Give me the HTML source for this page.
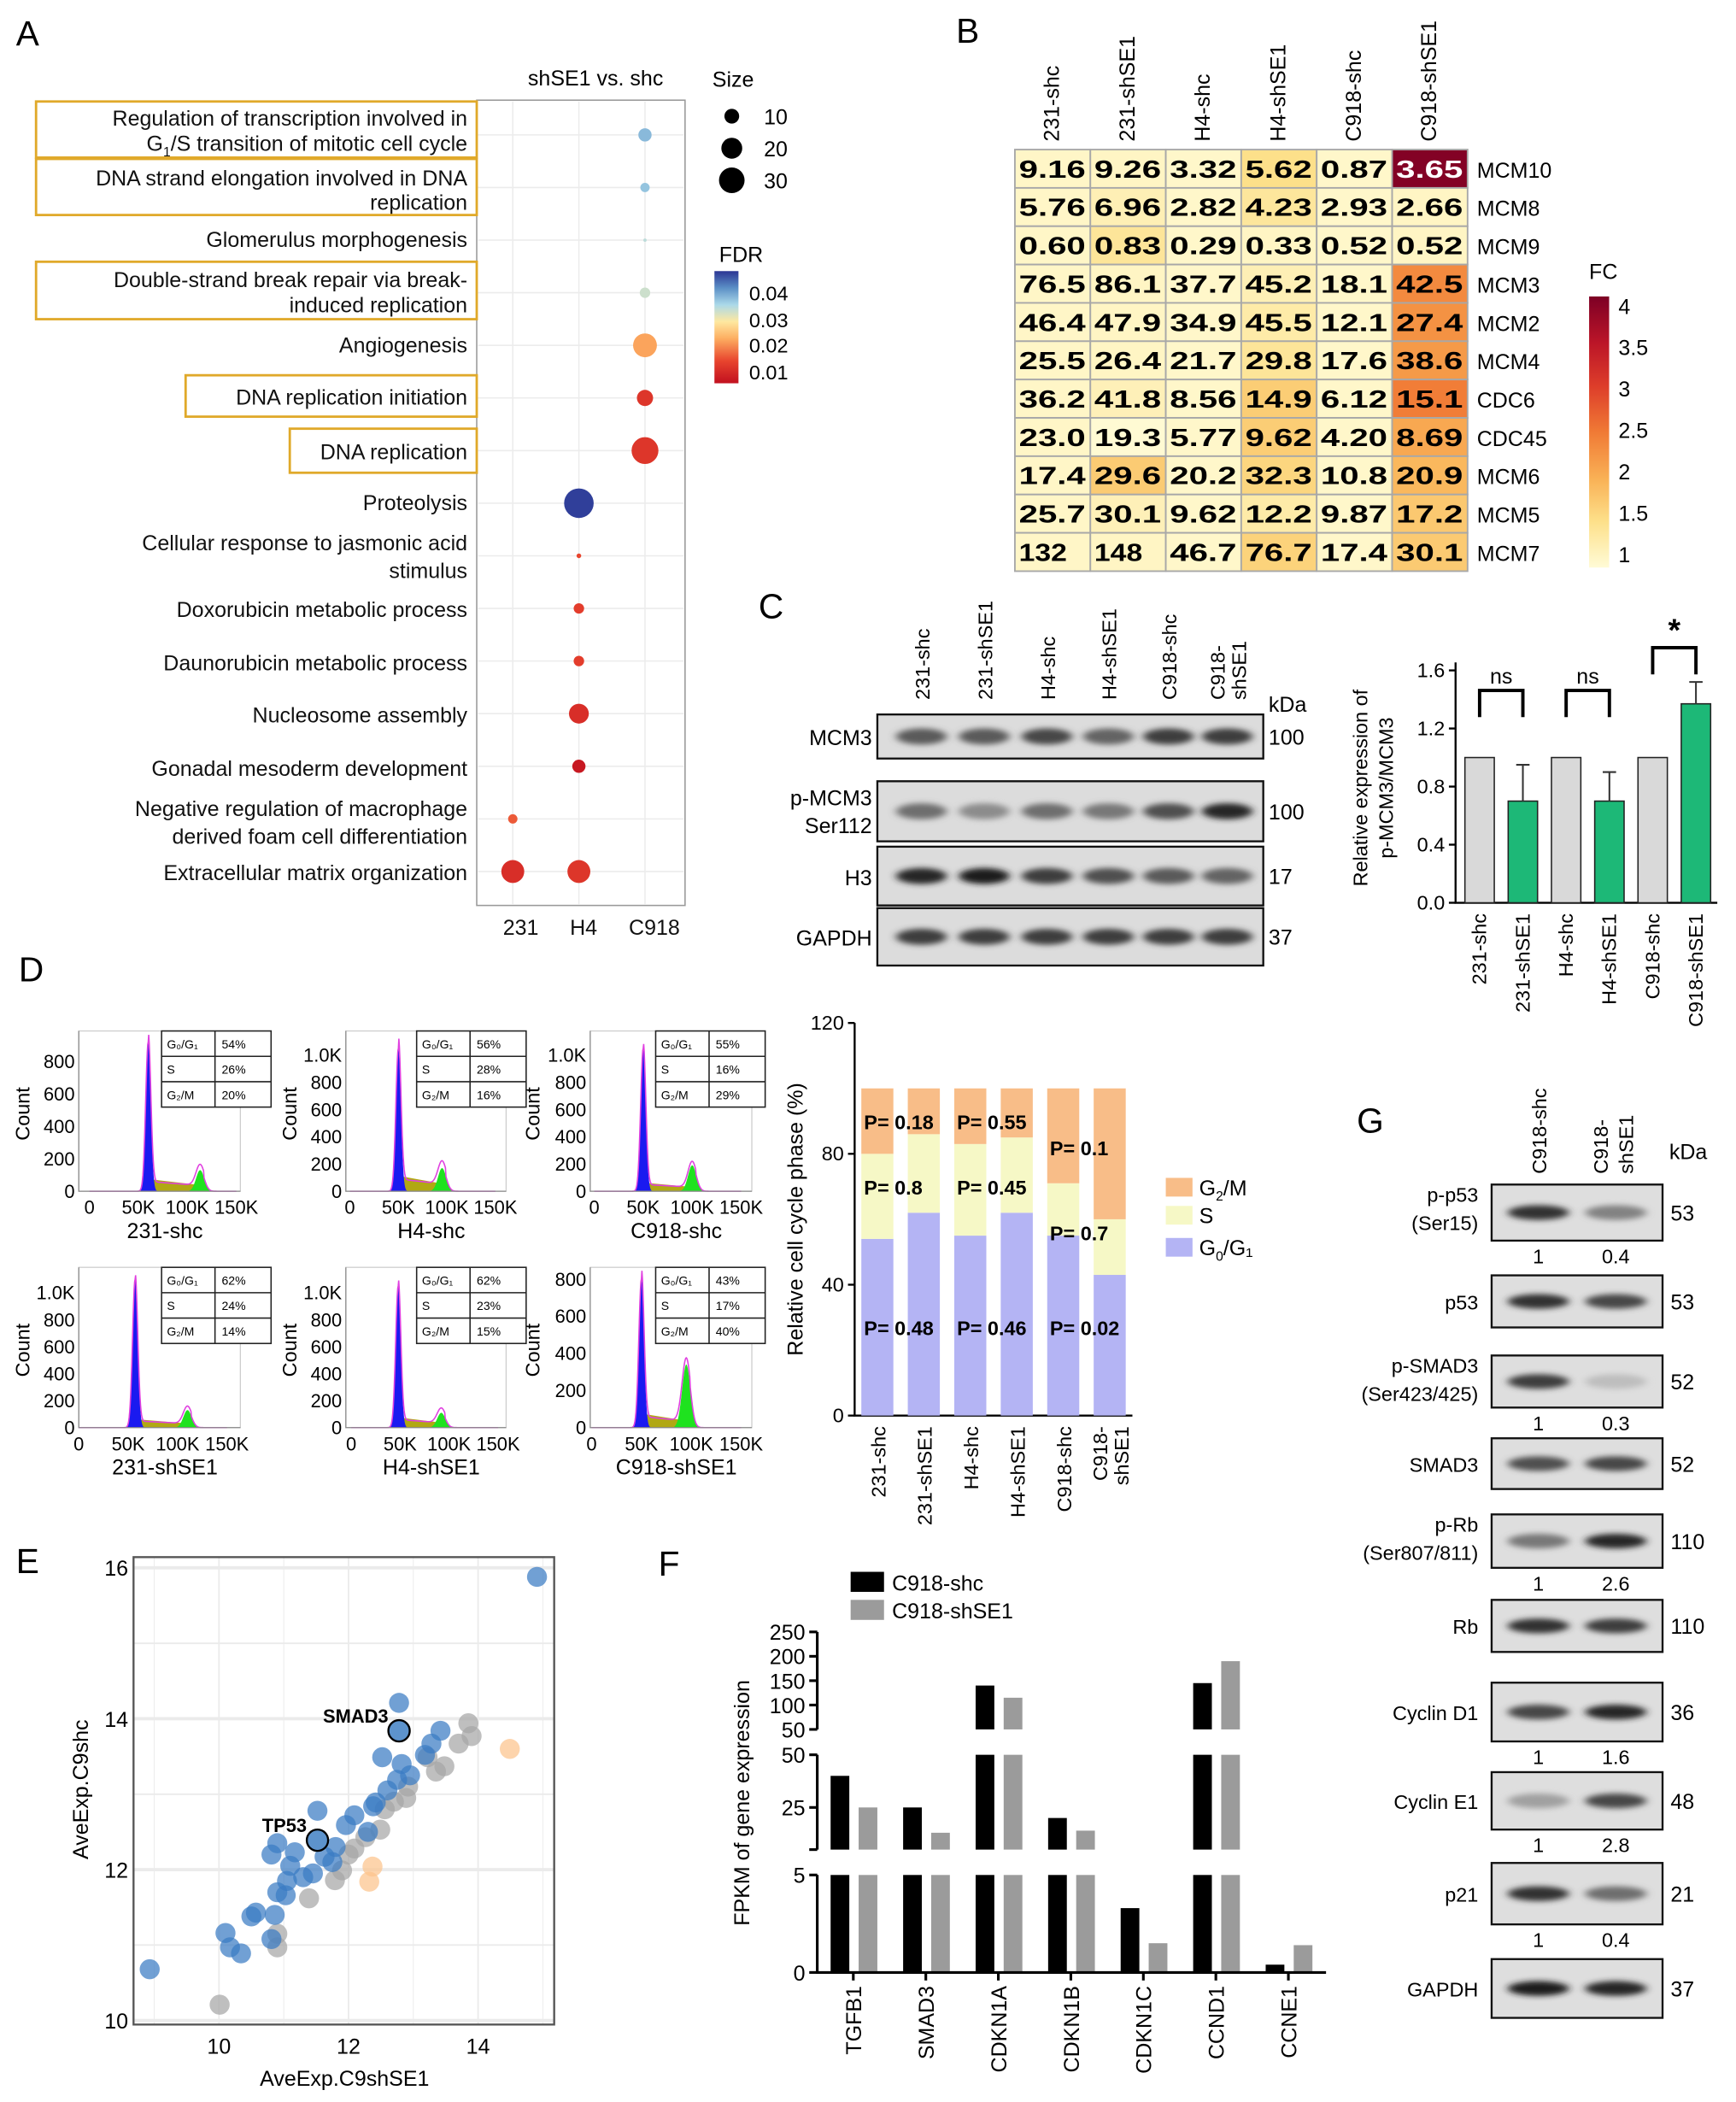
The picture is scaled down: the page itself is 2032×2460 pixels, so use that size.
<!DOCTYPE html>
<html><head><meta charset="utf-8"><title>Figure</title>
<style>
html,body{margin:0;padding:0;background:#fff;}
svg{display:block;font-family:"Liberation Sans",Arial,sans-serif;}
</style></head>
<body>
<svg id="fig" xmlns="http://www.w3.org/2000/svg" width="2032" height="2460" viewBox="0 0 1300 1574" preserveAspectRatio="none">
<defs>
<linearGradient id="fdrGrad" x1="0" y1="1" x2="0" y2="0">
<stop offset="0" stop-color="#c2101f"/><stop offset="0.2" stop-color="#e8452e"/><stop offset="0.4" stop-color="#fdae61"/><stop offset="0.55" stop-color="#fee8a0"/><stop offset="0.7" stop-color="#abd9e9"/><stop offset="0.85" stop-color="#5b8fc6"/><stop offset="1" stop-color="#2b3594"/>
</linearGradient>
<linearGradient id="fcGrad" x1="0" y1="1" x2="0" y2="0">
<stop offset="0" stop-color="#fffbd6"/><stop offset="0.17" stop-color="#fde08a"/><stop offset="0.33" stop-color="#f9b055"/><stop offset="0.5" stop-color="#f07a35"/><stop offset="0.67" stop-color="#dd3d2a"/><stop offset="0.83" stop-color="#bb1528"/><stop offset="1" stop-color="#7d0025"/>
</linearGradient>
<filter id="blur" x="-20%" y="-50%" width="140%" height="200%"><feGaussianBlur stdDeviation="3 2"/></filter>
</defs>

<g font-size="26">
<text x="12" y="34">A</text>
<text x="716" y="32">B</text>
<text x="568" y="463">C</text>
<text x="14" y="735">D</text>
<text x="12" y="1178">E</text>
<text x="493" y="1180">F</text>
<text x="1016" y="848">G</text>
</g>

<g id="panelA">
<rect x="357" y="75" width="156" height="603" fill="#fff" stroke="#999" stroke-width="1"/>
<g id="aGrid"></g>
<g font-size="16" text-anchor="end" fill="#111">
<text x="350" y="94">Regulation of transcription involved in</text>
<text x="350" y="113">G<tspan font-size="10" dy="4">1</tspan><tspan dy="-4">/S transition of mitotic cell cycle</tspan></text>
<text x="350" y="139">DNA strand elongation involved in DNA</text>
<text x="350" y="157">replication</text>
<text x="350" y="185">Glomerulus morphogenesis</text>
<text x="350" y="215">Double-strand break repair via break-</text>
<text x="350" y="234">induced replication</text>
<text x="350" y="264">Angiogenesis</text>
<text x="350" y="303">DNA replication initiation</text>
<text x="350" y="344">DNA replication</text>
<text x="350" y="382">Proteolysis</text>
<text x="350" y="412">Cellular response to jasmonic acid</text>
<text x="350" y="433">stimulus</text>
<text x="350" y="462">Doxorubicin metabolic process</text>
<text x="350" y="502">Daunorubicin metabolic process</text>
<text x="350" y="541">Nucleosome assembly</text>
<text x="350" y="581">Gonadal mesoderm development</text>
<text x="350" y="611">Negative regulation of macrophage</text>
<text x="350" y="632">derived foam cell differentiation</text>
<text x="350" y="659">Extracellular matrix organization</text>
</g>
<g fill="none" stroke="#e0a92a" stroke-width="1.8">
<rect x="27" y="76" width="330" height="42"/>
<rect x="27" y="119" width="330" height="42"/>
<rect x="27" y="196" width="330" height="43"/>
<rect x="139" y="281" width="218" height="31"/>
<rect x="217" y="321" width="140" height="33"/>
</g>
<g font-size="16" text-anchor="middle" fill="#111">
<text x="390" y="700">231</text>
<text x="437" y="700">H4</text>
<text x="490" y="700">C918</text>
</g>
<text x="446" y="64" font-size="16" text-anchor="middle">shSE1 vs. shc</text>
<text x="549" y="65" font-size="16" text-anchor="middle">Size</text>
<g id="sizeLegend"></g>
<text x="555" y="196" font-size="16" text-anchor="middle">FDR</text>
<rect x="535" y="203" width="18" height="84" fill="url(#fdrGrad)"/>
<g font-size="15">
<text x="561" y="225">0.04</text>
<text x="561" y="245">0.03</text>
<text x="561" y="264">0.02</text>
<text x="561" y="284">0.01</text>
</g>
<g id="aDots"></g>
</g>

<g id="panelB">
<g id="bCells"></g>
<text x="1190" y="209" font-size="16">FC</text>
<rect x="1190" y="222" width="15" height="203" fill="url(#fcGrad)"/>
<g id="fcTicks" font-size="16"></g>
</g>

<g id="panelC">
<g id="cBlots"></g>
<g id="cBars"></g>
</g>

<g id="panelD">
<g id="dHist"></g>
<g id="dStack"></g>
</g>

<g id="panelE"></g>
<g id="panelF"></g>
<g id="panelG"></g>
</svg>

<script>
var NS = "http://www.w3.org/2000/svg";
function mk(tag, attrs, parent, txt) {
  var e = document.createElementNS(NS, tag);
  for (var k in attrs) e.setAttribute(k, attrs[k]);
  if (txt !== undefined) e.textContent = txt;
  parent.appendChild(e);
  return e;
}
function $(id){ return document.getElementById(id); }

/* ================= Panel A data ================= */
var aColumns = ["231", "H4", "C918"];
var aRowCount = 15;
var dotRow  = [0, 1, 2, 3, 4, 5, 6, 7, 8, 9, 10, 11, 12, 13, 14, 14];
var dotCol  = [2, 2, 2, 2, 2, 2, 2, 1, 1, 1, 1, 1, 1, 0, 0, 1];
var dotSize = [8, 4, 0.5, 5, 26, 12, 33, 40, 1, 5, 5, 18, 8, 4, 24, 24];
var dotFdr  = [0.034, 0.033, 0.03, 0.029, 0.019, 0.008, 0.008, 0.046, 0.01, 0.009, 0.009, 0.007, 0.004, 0.012, 0.007, 0.008];
var sizeLegendValues = [10, 20, 30];

function fdrColor(v) {
  var stops = [[0.003,[194,16,31]],[0.01,[232,69,46]],[0.02,[253,174,97]],[0.026,[254,232,160]],[0.031,[171,217,233]],[0.038,[91,143,198]],[0.047,[43,53,148]]];
  if (v <= stops[0][0]) return "rgb("+stops[0][1]+")";
  for (var i=1;i<stops.length;i++){
    if (v <= stops[i][0]) {
      var t=(v-stops[i-1][0])/(stops[i][0]-stops[i-1][0]);
      var c=stops[i-1][1].map(function(a,j){return Math.round(a+(stops[i][1][j]-a)*t);});
      return "rgb("+c+")";
    }
  }
  return "rgb("+stops[stops.length-1][1]+")";
}
function aX(c){ return 384 + c*49.5; }
function aY(r){ return 101 + r*39.4; }
function aR(s){ return 1.75*Math.sqrt(s); }

(function(){
  var g = $("aGrid");
  for (var c=0;c<aColumns.length;c++){
    var l = mk("line",{x1:aX(c),x2:aX(c),y1:76,y2:677,stroke:"#ececec","stroke-width":1},g);
    
    
  }
  for (var r=0;r<aRowCount;r++){
    var h = mk("line",{x1:358,x2:512,y1:aY(r),y2:aY(r),stroke:"#ececec","stroke-width":1},g);
    
    
  }
  var d = $("aDots");
  for (var i=0;i<dotRow.length;i++){
    var ci = mk("circle",{cx:aX(dotCol[i]),cy:aY(dotRow[i]),r:aR(dotSize[i]),fill:fdrColor(dotFdr[i])},d);
    
    
  }
  var sl = $("sizeLegend");
  for (var k=0;k<sizeLegendValues.length;k++){
    var yy = 87 + k*24;
    var lc = mk("circle",{cx:548,cy:yy,r:aR(sizeLegendValues[k]),fill:"#000"},sl);
    
    
    var lt = mk("text",{x:572,y:yy+6,"font-size":16},sl,String(sizeLegendValues[k]));
    
    
  }
})();

/* ================= Panel B data ================= */
var bSamples = ["231-shc","231-shSE1","H4-shc","H4-shSE1","C918-shc","C918-shSE1"];
var bGenes = ["MCM10","MCM8","MCM9","MCM3","MCM2","MCM4","CDC6","CDC45","MCM6","MCM5","MCM7"];
var bValues = [
 ["9.16","9.26","3.32","5.62","0.87","3.65"],
 ["5.76","6.96","2.82","4.23","2.93","2.66"],
 ["0.60","0.83","0.29","0.33","0.52","0.52"],
 ["76.5","86.1","37.7","45.2","18.1","42.5"],
 ["46.4","47.9","34.9","45.5","12.1","27.4"],
 ["25.5","26.4","21.7","29.8","17.6","38.6"],
 ["36.2","41.8","8.56","14.9","6.12","15.1"],
 ["23.0","19.3","5.77","9.62","4.20","8.69"],
 ["17.4","29.6","20.2","32.3","10.8","20.9"],
 ["25.7","30.1","9.62","12.2","9.87","17.2"],
 ["132","148","46.7","76.7","17.4","30.1"]
];
var bFC = [
 [1.10,1.12,1.08,1.50,1.08,3.95],
 [1.10,1.22,1.08,1.38,1.08,1.12],
 [1.10,1.40,1.08,1.12,1.08,1.12],
 [1.10,1.12,1.08,1.22,1.08,2.35],
 [1.10,1.12,1.08,1.30,1.08,2.28],
 [1.10,1.12,1.08,1.40,1.08,2.20],
 [1.10,1.20,1.08,1.70,1.08,2.47],
 [1.10,1.02,1.08,1.70,1.08,2.07],
 [1.10,1.72,1.08,1.60,1.08,1.92],
 [1.10,1.20,1.08,1.30,1.08,1.75],
 [1.10,1.12,1.08,1.64,1.08,1.73]
];
var fcTickLabels = ["1","1.5","2","2.5","3","3.5","4"];
var fcTickValues = [1,1.5,2,2.5,3,3.5,4];

function fcColor(v){
  var stops=[[1,[255,251,214]],[1.5,[253,224,138]],[2,[249,176,85]],[2.5,[240,122,53]],[3,[221,61,42]],[3.5,[187,21,40]],[4,[125,0,37]]];
  if (v<=1) return "rgb("+stops[0][1]+")";
  for (var i=1;i<stops.length;i++){
    if (v<=stops[i][0]){
      var t=(v-stops[i-1][0])/0.5;
      var c=stops[i-1][1].map(function(a,j){return Math.round(a+(stops[i][1][j]-a)*t);});
      return "rgb("+c+")";
    }
  }
  return "rgb("+stops[6][1]+")";
}
function bX(c){ return 760 + c*56.5; }
function bY(r){ return 112 + r*28.7; }
function fcY(v){ return 415 - (v-1)*62; }

(function(){
  var g=$("bCells");
  for (var r=0;r<bGenes.length;r++){
    for (var c=0;c<bSamples.length;c++){
      var rc=mk("rect",{x:bX(c),y:bY(r),width:56.5,height:28.7,fill:fcColor(bFC[r][c]),stroke:"#a8a8a8","stroke-width":1.2},g);
      
      
      var tx=mk("text",{x:bX(c)+3,y:bY(r)+21,"font-size":18.5,"font-weight":"bold",fill:bFC[r][c]>3?"#fff":"#000",textLength:50,lengthAdjust:"spacingAndGlyphs"},g,bValues[r][c]);
      if (bValues[r][c].length===3) { tx.setAttribute("textLength", 36); }
      
      
    }
    var gl=mk("text",{x:1106,y:bY(r)+21,"font-size":16},g,bGenes[r]);
    
    
  }
  for (var c2=0;c2<bSamples.length;c2++){
    var cx=bX(c2)+33;
    var sl=mk("text",{x:0,y:0,"font-size":16,"text-anchor":"start",transform:"translate("+cx+",106) rotate(-90)"},g,bSamples[c2]);
    
    
  }
  var t=$("fcTicks");
  for (var k=0;k<fcTickValues.length;k++){
    var ft=mk("text",{x:1212,y:fcY(fcTickValues[k])+6},t,fcTickLabels[k]);
    
    
  }
})();

/* ================= Panel C ================= */
var cLanes = ["231-shc","231-shSE1","H4-shc","H4-shSE1","C918-shc","C918-shSE1"];
var cBlotNames = ["MCM3","p-MCM3 Ser112","H3","GAPDH"];
var cBlotKda = ["100","100","17","37"];
var cBandMCM3 = [0.70,0.70,0.80,0.65,0.85,0.85];
var cBandPMCM3 = [0.60,0.45,0.60,0.55,0.75,0.95];
var cBandH3 = [0.95,1.00,0.85,0.75,0.70,0.65];
var cBandGAPDH = [0.85,0.85,0.85,0.85,0.85,0.85];
var cBarValues = [1.0,0.70,1.0,0.70,1.0,1.37];
var cBarErrors = [0,0.25,0,0.20,0,0.15];
var cYTicks = [0,0.4,0.8,1.2,1.6];
var cYTickLabels = ["0.0","0.4","0.8","1.2","1.6"];

function band(g, cx, cy, w, h, inten){
  var sh = Math.round(230 - inten*200);
  var e = mk("ellipse",{cx:cx,cy:cy,rx:w/2,ry:h/2,fill:"rgb("+sh+","+sh+","+sh+")",filter:"url(#blur)"},g);
  
  
}
function cYv(v){ return 676 - v*108.75; }
function cXb(i){ return 1108 + i*32.4; }

(function(){
  var g=$("cBlots");
  var laneX=[690,737,784,830,875,919];
  var rows=[[535,568],[585,630],[634,678],[680,723]];
  var bands=[cBandMCM3,cBandPMCM3,cBandH3,cBandGAPDH];
  for (var r=0;r<rows.length;r++){
    var bx=mk("rect",{x:657,y:rows[r][0],width:289,height:rows[r][1]-rows[r][0],fill:"#dcdcdc",stroke:"#111","stroke-width":1.5},g);
    
    
    var cy=(rows[r][0]+rows[r][1])/2;
    for (var l=0;l<laneX.length;l++) band(g, laneX[l], cy, 38, 12, bands[r][l]);
    var kd=mk("text",{x:950,y:cy+6,"font-size":16},g,cBlotKda[r]);
    
    
  }
  var labs=[["MCM3",558],["p-MCM3",603],["Ser112",624],["H3",663],["GAPDH",708]];
  for (var i=0;i<labs.length;i++){
    var tl=mk("text",{x:653,y:labs[i][1],"font-size":16,"text-anchor":"end"},g,labs[i][0]);
    
    
  }
  var kh=mk("text",{x:950,y:533,"font-size":16},g,"kDa");
  
  
  var lanesTxt=[["231-shc"],["231-shSE1"],["H4-shc"],["H4-shSE1"],["C918-shc"],["C918-","shSE1"]];
  for (var j=0;j<lanesTxt.length;j++){
    for (var q=0;q<lanesTxt[j].length;q++){
      var xx=laneX[j]+6-(lanesTxt[j].length-1)*8+q*16;
      var lt=mk("text",{x:0,y:0,"font-size":15,transform:"translate("+xx+",524) rotate(-90)"},g,lanesTxt[j][q]);
      
      
    }
  }

  var b=$("cBars");
  var ax=mk("path",{d:"M1090 496 V676 H1286",fill:"none",stroke:"#000","stroke-width":1.5},b);
  
  
  for (var t=0;t<cYTicks.length;t++){
    var ty=cYv(cYTicks[t]);
    var tk=mk("line",{x1:1085,x2:1090,y1:ty,y2:ty,stroke:"#000","stroke-width":1.5},b);
    
    
    var tt=mk("text",{x:1082,y:ty+5,"font-size":15,"text-anchor":"end"},b,cYTickLabels[t]);
    
    
  }
  for (var k=0;k<cBarValues.length;k++){
    var x=cXb(k), y=cYv(cBarValues[k]);
    var br=mk("rect",{x:x-11,y:y,width:22,height:676-y,fill:k%2?"#1db877":"#d9d9d9",stroke:"#222","stroke-width":1},b);
    
    
    if (cBarErrors[k]>0){
      var ye=cYv(cBarValues[k]+cBarErrors[k]);
      var eb=mk("path",{d:"M"+x+" "+y+" V"+ye+" M"+(x-5)+" "+ye+" H"+(x+5),stroke:"#333","stroke-width":1.3,fill:"none"},b);
      
      
    }
    var xl=mk("text",{x:0,y:0,"font-size":15,"text-anchor":"end",transform:"translate("+(x+5)+",684) rotate(-90)"},b,cLanes[k]);
    
    
  }
  var sigs=[[0,1,517,"ns"],[2,3,517,"ns"],[4,5,485,"*"]];
  for (var s=0;s<sigs.length;s++){
    var x1=cXb(sigs[s][0]), x2=cXb(sigs[s][1]), yb=sigs[s][2];
    var pb=mk("path",{d:"M"+x1+" "+(yb+20)+" V"+yb+" H"+x2+" V"+(yb+20),stroke:"#000","stroke-width":2.5,fill:"none"},b);
    
    
    var st=mk("text",{x:(x1+x2)/2,y:yb-5,"font-size":sigs[s][3]==="*"?24:16,"text-anchor":"middle","font-weight":sigs[s][3]==="*"?"bold":"normal"},b,sigs[s][3]);
    
    
  }
  var yl1=mk("text",{x:0,y:0,"font-size":15,"text-anchor":"middle",transform:"translate(1024,590) rotate(-90)"},b,"Relative expression of");
  
  
  var yl2=mk("text",{x:0,y:0,"font-size":15,"text-anchor":"middle",transform:"translate(1043,590) rotate(-90)"},b,"p-MCM3/MCM3");
  
  
})();

/* ================= Panel D ================= */
var dSampleNames = ["231-shc","H4-shc","C918-shc","231-shSE1","H4-shSE1","C918-shSE1"];
var dG1Pct = ["54%","56%","55%","62%","62%","43%"];
var dSPct  = ["26%","28%","16%","24%","23%","17%"];
var dG2Pct = ["20%","16%","29%","14%","15%","40%"];
var dG1Peak = [920,1050,1050,1100,1050,800];
var dG1Pos  = [60,50,50,57,48,50];
var dG2Peak = [130,170,190,130,110,340];
var dG2Pos  = [113,95,100,110,92,95];
var dSLevel = [60,90,50,50,60,60];

var stackSamples = ["231-shc","231-shSE1","H4-shc","H4-shSE1","C918-shc","C918-shSE1"];
var stackG1 = [54,62,55,62,55,43];
var stackS  = [26,24,28,23,16,17];
var stackG2 = [20,14,17,15,29,40];
var stackYTicks = [0,40,80,120];
var stackPLabels = [["P= 0.18",0,90],["P= 0.55",2,90],["P= 0.8",0,70],["P= 0.45",2,70],["P= 0.1",4,82],["P= 0.7",4,56],["P= 0.48",0,27],["P= 0.46",2,27],["P= 0.02",4,27]];

(function(){
  var g=$("dHist");
  var boxes=[
    {x0:59,x1:180,top:772,bot:892,ax0:67,ax1:177,yScale:0.1216,ticks:[0,200,400,600,800],tl:["0","200","400","600","800"],tx:121,cx:22},
    {x0:259,x1:379,top:772,bot:892,ax0:262,ax1:371,yScale:0.102,ticks:[0,200,400,600,800,1000],tl:["0","200","400","600","800","1.0K"],tx:312,cx:222},
    {x0:442,x1:563,top:772,bot:892,ax0:445,ax1:555,yScale:0.102,ticks:[0,200,400,600,800,1000],tl:["0","200","400","600","800","1.0K"],tx:491,cx:404},
    {x0:59,x1:180,top:949,bot:1069,ax0:59,ax1:170,yScale:0.101,ticks:[0,200,400,600,800,1000],tl:["0","200","400","600","800","1.0K"],tx:121,cx:22},
    {x0:259,x1:379,top:949,bot:1069,ax0:263,ax1:373,yScale:0.101,ticks:[0,200,400,600,800,1000],tl:["0","200","400","600","800","1.0K"],tx:312,cx:222},
    {x0:442,x1:563,top:949,bot:1069,ax0:443,ax1:555,yScale:0.139,ticks:[0,200,400,600,800],tl:["0","200","400","600","800"],tx:491,cx:404}
  ];
  for (var i=0;i<6;i++){
    var B=boxes[i];
    var fr=mk("rect",{x:B.x0,y:B.top,width:B.x1-B.x0,height:B.bot-B.top,fill:"#fff",stroke:"#ccc","stroke-width":0.8},g);
    
    
    function X(k){ return B.ax0 + k/150*(B.ax1-B.ax0); }
    function Y(c){ return B.bot - c*B.yScale; }
    function gauss(k,p,h,s){ return h*Math.exp(-0.5*Math.pow((k-p)/s,2)); }
    var p1=dG1Pos[i],h1=dG1Peak[i],p2=dG2Pos[i],h2=dG2Peak[i],sl=dSLevel[i];
    var dB="M"+X(p1-9)+" "+Y(0), dGn="M"+X(p2-12)+" "+Y(0), dS="M"+X(p1)+" "+Y(0), dL="M"+X(0)+" "+Y(0);
    for (var k=p1-9;k<=p1+9;k+=0.5) dB+=" L"+X(k)+" "+Y(gauss(k,p1,h1,2.6));
    dB+=" L"+X(p1+9)+" "+Y(0)+"Z";
    for (var k2=p2-12;k2<=p2+12;k2+=0.5) dGn+=" L"+X(k2)+" "+Y(gauss(k2,p2,h2,4.2));
    dGn+=" L"+X(p2+12)+" "+Y(0)+"Z";
    dS+=" L"+X(p1+4)+" "+Y(sl*1.2)+" L"+X(p2-6)+" "+Y(sl*0.7)+" L"+X(p2+6)+" "+Y(0)+"Z";
    for (var k3=0;k3<=150;k3+=0.5){
      var s=0; if (k3>p1 && k3<p2+4) s = sl*(1 - 0.4*(k3-p1)/(p2-p1));
      dL+=" L"+X(k3)+" "+Y(gauss(k3,p1,h1,2.6)+gauss(k3,p2,h2,4.2)+Math.max(0,s));
    }
    var pS=mk("path",{d:dS,fill:"#b1a813"},g);  
    var pB=mk("path",{d:dB,fill:"#1a1af0"},g);  
    var pG=mk("path",{d:dGn,fill:"#1fe21f"},g);  
    var pL=mk("path",{d:dL,fill:"none",stroke:"#e040e0","stroke-width":1},g);  
    var axl=mk("path",{d:"M"+B.x0+" "+B.top+" V"+B.bot+" H"+B.x1,fill:"none",stroke:"#888","stroke-width":0.8},g);
     
    for (var t=0;t<B.ticks.length;t++){
      var yt=Y(B.ticks[t]);
      var tl=mk("text",{x:B.x0-3,y:yt+5,"font-size":14,"text-anchor":"end"},g,B.tl[t]);
       
    }
    var xt=[0,50,100,150], xtl=["0","50K","100K","150K"];
    for (var u=0;u<4;u++){
      var xx=mk("text",{x:X(xt[u]),y:B.bot+17,"font-size":14,"text-anchor":"middle"},g,xtl[u]);
       
    }
    var yct=mk("text",{x:0,y:0,"font-size":15,"text-anchor":"middle",transform:"translate("+B.cx+","+(B.top+62)+") rotate(-90)"},g,"Count");
     
    var nm=mk("text",{x:(B.x0+B.x1)/2+4,y:B.bot+35,"font-size":16,"text-anchor":"middle"},g,dSampleNames[i]);
     
    var tx0=B.tx, ty0=B.top;
    var tb=mk("rect",{x:tx0,y:ty0,width:82,height:57,fill:"#fff",stroke:"#222","stroke-width":1},g);
     
    var tlines=mk("path",{d:"M"+tx0+" "+(ty0+19)+" h82 M"+tx0+" "+(ty0+38)+" h82 M"+(tx0+40)+" "+ty0+" v57",stroke:"#222","stroke-width":1},g);
     
    var rowsT=[["G\u2080/G\u2081",dG1Pct[i]],["S",dSPct[i]],["G\u2082/M",dG2Pct[i]]];
    for (var r=0;r<3;r++){
      var a=mk("text",{x:tx0+4,y:ty0+13+r*19,"font-size":9},g,rowsT[r][0]);
       
      var bb=mk("text",{x:tx0+45,y:ty0+13+r*19,"font-size":9},g,rowsT[r][1]);
       
    }
  }

  var s=$("dStack");
  function sY(v){ return 1060 - v*2.45; }
  function sX(i){ return 657 + i*34.8; }
  var ax=mk("path",{d:"M640 766 V1060 H848",fill:"none",stroke:"#000","stroke-width":1.5},s);
   
  for (var t2=0;t2<stackYTicks.length;t2++){
    var yy=sY(stackYTicks[t2]);
    var tk=mk("line",{x1:635,x2:640,y1:yy,y2:yy,stroke:"#000","stroke-width":1.5},s);
     
    var tt=mk("text",{x:632,y:yy+5,"font-size":15,"text-anchor":"end"},s,String(stackYTicks[t2]));
     
  }
  for (var j=0;j<stackSamples.length;j++){
    var x=sX(j)-12, b0=0;
    var segs=[[stackG1[j],"#b4b4f4","g1"],[stackS[j],"#f6f8c6","s"],[stackG2[j],"#f8bd88","g2"]];
    for (var q=0;q<3;q++){
      var y1=sY(b0+segs[q][0]), y0=sY(b0);
      var rr=mk("rect",{x:x,y:y1,width:24,height:y0-y1,fill:segs[q][1]},s);
       
      b0+=segs[q][0];
    }
  }
  var xlab=[["231-shc"],["231-shSE1"],["H4-shc"],["H4-shSE1"],["C918-shc"],["C918-","shSE1"]];
  for (var m=0;m<xlab.length;m++){
    for (var n=0;n<xlab[m].length;n++){
      var xxp=sX(m)+6-(xlab[m].length-1)*8+n*16;
      var xt2=mk("text",{x:0,y:0,"font-size":15,"text-anchor":"end",transform:"translate("+xxp+",1068) rotate(-90)"},s,xlab[m][n]);
       
    }
  }
  for (var p=0;p<stackPLabels.length;p++){
    var pl=mk("text",{x:sX(stackPLabels[p][1])-10,y:sY(stackPLabels[p][2])+6,"font-size":15,"font-weight":"bold"},s,stackPLabels[p][0]);
     
  }
  var yti=mk("text",{x:0,y:0,"font-size":16,"text-anchor":"middle",transform:"translate(601,913) rotate(-90)"},s,"Relative cell cycle phase (%)");
   
  var leg=[["#f8bd88",882,"G","2","/M"],["#f6f8c6",903,"S","",""],["#b4b4f4",927,"G","0","/G\u2081"]];
  for (var L=0;L<leg.length;L++){
    var lr=mk("rect",{x:873,y:leg[L][1],width:20,height:14,fill:leg[L][0]},s);
     
    var lt=mk("text",{x:898,y:leg[L][1]+13,"font-size":16},s);
     
    mk("tspan",{},lt,leg[L][2]);
    if (leg[L][3]) { mk("tspan",{"font-size":10,dy:4},lt,leg[L][3]); mk("tspan",{dy:-4},lt,leg[L][4]); }
  }
})();

/* ================= Panel E ================= */
var eBlueX = [14.91,12.78,13.42,13.28,12.52,12.82,13.18,12.95,12.75,12.42,12.38,12.09,11.52,11.96,10.90,10.81,11.17,11.10,11.63,11.80,10.90,11.03,11.30,10.57,10.86,10.50,10.10,10.17,10.34,10.81,8.93,12.30,11.75,11.45,11.05,12.60];
var eBlueY = [15.88,14.21,13.84,13.67,13.49,13.40,13.52,13.25,13.19,12.89,12.84,12.72,12.78,12.59,12.35,12.20,12.23,12.05,12.17,12.30,11.70,11.66,11.90,11.43,11.40,11.38,11.16,10.97,10.89,11.08,10.68,12.50,12.10,11.95,11.85,13.05];
var eGreyX = [13.85,13.90,13.70,13.22,13.48,12.92,12.89,12.56,12.49,12.26,12.09,11.90,11.79,11.39,10.90,10.90,10.01,13.35,12.70,12.00];
var eGreyY = [13.94,13.77,13.67,13.49,13.37,13.10,12.95,12.80,12.53,12.43,12.28,11.99,11.86,11.62,11.15,10.97,10.21,13.30,12.90,12.20];
var eOrangeX = [14.49,12.37,12.32];
var eOrangeY = [13.60,12.04,11.84];
var eLabels = [["SMAD3",12.78,13.84],["TP53",11.52,12.39]];
var eXTicks = [10,12,14];
var eYTicks = [10,12,14,16];

(function(){
  var g=$("panelE");
  function X(v){ return 164 + (v-10)*48.5; }
  function Y(v){ return 1400 - (v-12)*56.5; }
  var bg=mk("rect",{x:100,y:1166,width:315,height:350,fill:"#fff"},g);
   
  for (var v=9;v<=15;v++){
    var gl=mk("line",{x1:X(v),x2:X(v),y1:1166,y2:1516,stroke:"#ebebeb","stroke-width":v%2===0?1.2:0.6},g);
     
  }
  for (var w=10;w<=16;w++){
    var gh=mk("line",{x1:100,x2:415,y1:Y(w),y2:Y(w),stroke:"#ebebeb","stroke-width":w%2===0?2.5:1.2},g);
     
  }
  var groups=[[eGreyX,eGreyY,"#a6a6a6","grey-point"],[eBlueX,eBlueY,"#3a7cc3","blue-point"],[eOrangeX,eOrangeY,"#fcc48c","orange-point"]];
  for (var gi=0;gi<groups.length;gi++){
    for (var i=0;i<groups[gi][0].length;i++){
      var c=mk("circle",{cx:X(groups[gi][0][i]),cy:Y(groups[gi][1][i]),r:7.5,fill:groups[gi][2],"fill-opacity":0.72},g);
      
      
    }
  }
  for (var l=0;l<eLabels.length;l++){
    var hc=mk("circle",{cx:X(eLabels[l][1]),cy:Y(eLabels[l][2]),r:8,fill:"#5d93cc",stroke:"#000","stroke-width":1.5},g);
     
    var ht=mk("text",{x:X(eLabels[l][1])-8,y:Y(eLabels[l][2])-6,"font-size":14,"font-weight":"bold","text-anchor":"end"},g,eLabels[l][0]);
     
  }
  var fr=mk("rect",{x:100,y:1166,width:315,height:350,fill:"none",stroke:"#555","stroke-width":1.5},g);
   
  for (var a=0;a<eXTicks.length;a++){
    var xt=mk("text",{x:X(eXTicks[a]),y:1538,"font-size":16,"text-anchor":"middle"},g,String(eXTicks[a]));
     
  }
  for (var b=0;b<eYTicks.length;b++){
    var yt=mk("text",{x:96,y:Y(eYTicks[b])+6,"font-size":16,"text-anchor":"end"},g,String(eYTicks[b]));
     
  }
  var xtl=mk("text",{x:258,y:1562,"font-size":16,"text-anchor":"middle"},g,"AveExp.C9shSE1");
   
  var ytl=mk("text",{x:0,y:0,"font-size":16,"text-anchor":"middle",transform:"translate(66,1340) rotate(-90)"},g,"AveExp.C9shc");
   
})();

/* ================= Panel F ================= */
var fGenes = ["TGFB1","SMAD3","CDKN1A","CDKN1B","CDKN1C","CCND1","CCNE1"];
var fShc   = [40,25,140,20,3.3,145,0.4];
var fShSE1 = [25,13,115,14,1.5,190,1.4];
var fTopTicks = [50,100,150,200,250];
var fMidTicks = [25,50];
var fBotTicks = [0,5];

(function(){
  var g=$("panelF");
  var segs=[{lo:0,hi:5,y0:1477,y1:1404},{lo:5,hi:50,y0:1385,y1:1314},{lo:50,hi:250,y0:1295,y1:1222}];
  function segY(s,v){ var S=segs[s]; var vv=Math.max(S.lo,Math.min(S.hi,v)); return S.y0-(vv-S.lo)/(S.hi-S.lo)*(S.y0-S.y1); }
  function X(i){ return 629 + i*54.3; }
  var series=[[fShc,"#000",0,"bar-c918-shc"],[fShSE1,"#9b9b9b",21,"bar-c918-shse1"]];
  for (var si=0;si<2;si++){
    for (var i=0;i<fGenes.length;i++){
      var v=series[si][0][i];
      for (var s=0;s<3;s++){
        if (v<=segs[s].lo) continue;
        var yt=segY(s,v), yb=segs[s].y0;
        var r=mk("rect",{x:X(i)+series[si][2]-7,y:yt,width:14,height:yb-yt,fill:series[si][1]},g);
        
        
      }
    }
  }
  var ax=mk("path",{d:"M612 1222 V1295 M612 1314 V1385 M612 1404 V1477 H993",fill:"none",stroke:"#000","stroke-width":2},g);
   
  var tickSets=[[fBotTicks,0],[fMidTicks,1],[fTopTicks,2]];
  for (var t=0;t<3;t++){
    for (var k=0;k<tickSets[t][0].length;k++){
      var yy=segY(tickSets[t][1],tickSets[t][0][k]);
      var tk=mk("line",{x1:606,x2:612,y1:yy,y2:yy,stroke:"#000","stroke-width":2},g);
       
      var tl=mk("text",{x:603,y:yy+6,"font-size":16,"text-anchor":"end"},g,String(tickSets[t][0][k]));
       
    }
  }
  var brk=mk("path",{d:"M606 1385 H612",stroke:"#000","stroke-width":2},g);
   
  for (var j=0;j<fGenes.length;j++){
    var xt=mk("line",{x1:X(j)+10,x2:X(j)+10,y1:1477,y2:1483,stroke:"#000","stroke-width":2},g);
     
    var xl=mk("text",{x:0,y:0,"font-size":16,"text-anchor":"end",transform:"translate("+(X(j)+16)+",1487) rotate(-90)"},g,fGenes[j]);
     
  }
  var yt2=mk("text",{x:0,y:0,"font-size":16,"text-anchor":"middle",transform:"translate(561,1350) rotate(-90)"},g,"FPKM of gene expression");
   
  var l1=mk("rect",{x:637,y:1177,width:25,height:15,fill:"#000"},g);
   
  var l2=mk("rect",{x:637,y:1198,width:25,height:15,fill:"#9b9b9b"},g);
   
  var lt1=mk("text",{x:668,y:1191,"font-size":16},g,"C918-shc");
   
  var lt2=mk("text",{x:668,y:1212,"font-size":16},g,"C918-shSE1");
   
})();

/* ================= Panel G ================= */
var gBlotNames = [["p-p53","(Ser15)"],["p53"],["p-SMAD3","(Ser423/425)"],["SMAD3"],["p-Rb","(Ser807/811)"],["Rb"],["Cyclin D1"],["Cyclin E1"],["p21"],["GAPDH"]];
var gKda = ["53","53","52","52","110","110","36","48","21","37"];
var gBandShc   = [0.90,0.90,0.85,0.75,0.55,0.90,0.80,0.35,0.90,1.00];
var gBandShSE1 = [0.50,0.80,0.20,0.80,0.95,0.85,0.95,0.80,0.60,0.95];
var gQuantShc   = ["1","","1","","1","","1","1","1",""];
var gQuantShSE1 = ["0.4","","0.3","","2.6","","1.6","2.8","0.4",""];

(function(){
  var g=$("panelG");
  var rows=[[887,929],[955,994],[1015,1054],[1077,1115],[1134,1174],[1198,1237],[1260,1304],[1327,1370],[1395,1441],[1467,1511]];
  var lane=[1152,1210];
  for (var r=0;r<rows.length;r++){
    var y0=rows[r][0], y1=rows[r][1], cy=(y0+y1)/2;
    var bx=mk("rect",{x:1117,y:y0,width:128,height:y1-y0,fill:"#dedede",stroke:"#111","stroke-width":1.5},g);
     
    band(g,lane[0],cy,46,11,gBandShc[r]);
    band(g,lane[1],cy,46,11,gBandShSE1[r]);
    var nm=gBlotNames[r];
    for (var n=0;n<nm.length;n++){
      var yy = nm.length===2 ? y0+13+n*21 : cy+6;
      var tl=mk("text",{x:1107,y:yy,"font-size":15,"text-anchor":"end"},g,nm[n]);
       
    }
    var kd=mk("text",{x:1251,y:cy+6,"font-size":16},g,gKda[r]);
     
    if (gQuantShc[r]){
      var q1=mk("text",{x:lane[0],y:y1+17,"font-size":15,"text-anchor":"middle"},g,gQuantShc[r]);
       
      var q2=mk("text",{x:lane[1],y:y1+17,"font-size":15,"text-anchor":"middle"},g,gQuantShSE1[r]);
       
    }
  }
  var kh=mk("text",{x:1250,y:868,"font-size":16},g,"kDa");
   
  var h1=mk("text",{x:0,y:0,"font-size":15,transform:"translate(1158,879) rotate(-90)"},g,"C918-shc");
   
  var h2=mk("text",{x:0,y:0,"font-size":15,transform:"translate(1204,879) rotate(-90)"},g,"C918-");
   
  var h3=mk("text",{x:0,y:0,"font-size":15,transform:"translate(1223,879) rotate(-90)"},g,"shSE1");
   
})();
</script>
</body></html>
